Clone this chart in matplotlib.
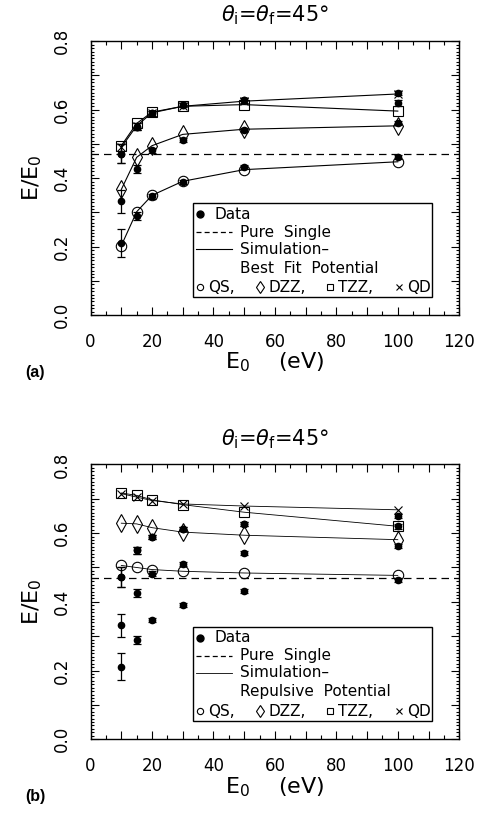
import matplotlib
matplotlib.use('Agg')
import matplotlib.pyplot as plt
from matplotlib.ticker import MultipleLocator, FuncFormatter
from matplotlib.patches import Rectangle

plt.rcParams['font.family'] = ['DejaVu Sans']
plt.rcParams['mathtext.fontset'] = 'dejavusans'

# incident energies (eV)
energy = [10, 15, 20, 30, 50, 100]
pure_single = 0.47

# measured E/E0 for the four ions
data_qs = [0.211, 0.289, 0.347, 0.390, 0.432, 0.463]
err_qs = [0.040, 0.011, 0.007, 0.006, 0.006, 0.006]
data_dzz = [0.332, 0.426, 0.482, 0.511, 0.542, 0.562]
err_dzz = [0.034, 0.012, 0.007, 0.006, 0.006, 0.006]
data_tzz = [0.472, 0.550, 0.589, 0.613, 0.627, 0.620]
err_tzz = [0.029, 0.010, 0.007, 0.006, 0.006, 0.008]
data_qd = [0.472, 0.550, 0.589, 0.613, 0.627, 0.649]
err_qd = [0.029, 0.010, 0.007, 0.006, 0.006, 0.006]

# simulation, best fit potential
fit_qs = [0.203, 0.302, 0.350, 0.391, 0.425, 0.448]
fit_dzz = [0.367, 0.461, 0.495, 0.528, 0.543, 0.553]
fit_tzz = [0.495, 0.560, 0.593, 0.610, 0.615, 0.596]
fit_qd = [0.490, 0.553, 0.591, 0.610, 0.625, 0.646]

# simulation, repulsive potential
rep_qs = [0.506, 0.500, 0.494, 0.489, 0.484, 0.477]
rep_dzz = [0.629, 0.627, 0.616, 0.603, 0.594, 0.581]
rep_tzz = [0.717, 0.710, 0.697, 0.683, 0.661, 0.620]
rep_qd = [0.715, 0.705, 0.695, 0.685, 0.679, 0.668]

sim_styles = [('o', 7.5), ('d', 9), ('s', 6.5), ('x', 6)]


def every_other(v, pos, step):
    if abs(round(v / step) % 2) == 0:
        return ('%g' % v) if step >= 1 else '%.1f' % v
    return ''


def draw_panel(ax, sims, potential, tag, lw):
    for vals, (m, ms) in zip(sims, sim_styles):
        ax.plot(energy, vals, color='k', lw=lw, marker=m, ms=ms,
                mfc='none', mec='k', mew=0.8)
    for vals, errs in [(data_qs, err_qs), (data_dzz, err_dzz),
                       (data_tzz, err_tzz), (data_qd, err_qd)]:
        ax.errorbar(energy, vals, yerr=errs, fmt='o', color='k', ms=4.5,
                    elinewidth=0.9, capsize=3, capthick=0.9)
    ax.axhline(pure_single, color='k', lw=0.9, dashes=(6, 4))

    ax.set_xlim(0, 120)
    ax.set_ylim(0, 0.8)
    ax.xaxis.set_major_locator(MultipleLocator(10))
    ax.xaxis.set_minor_locator(MultipleLocator(5))
    ax.yaxis.set_major_locator(MultipleLocator(0.1))
    ax.yaxis.set_minor_locator(MultipleLocator(0.01))
    ax.xaxis.set_major_formatter(FuncFormatter(lambda v, p: every_other(v, p, 10)))
    ax.yaxis.set_major_formatter(FuncFormatter(lambda v, p: every_other(v, p, 0.1)))
    ax.tick_params(which='both', direction='in', top=True, right=True, width=0.8)
    ax.tick_params(which='major', length=6)
    ax.tick_params(which='minor', length=3)
    ax.tick_params(axis='y', which='minor', length=2.5)
    ax.tick_params(axis='x', pad=13, labelsize=12)
    ax.tick_params(axis='y', pad=14, labelsize=12)
    for lab in ax.get_yticklabels():
        lab.set_rotation(90)
        lab.set_va('center')
    for s in ax.spines.values():
        s.set_linewidth(1)

    ax.set_title(r'$\theta_{\rm i}$=$\theta_{\rm f}$=45°', fontsize=15, pad=14)
    ax.set_xlabel(r'E$_{\rm 0}$    (eV)', fontsize=16)
    ax.xaxis.set_label_coords(0.5, -0.13)
    ax.set_ylabel(r'E/E$_{\rm 0}$', fontsize=16)
    ax.yaxis.set_label_coords(-0.125, 0.5)
    ax.text(-0.176, -0.21, tag, transform=ax.transAxes, fontsize=11.5,
            fontweight='bold', family='Liberation Sans', va='center')

    # key box
    tr = ax.transAxes
    ax.add_patch(Rectangle((0.278, 0.066), 0.648, 0.343, transform=tr,
                           fill=False, lw=1, ec='k'))
    fs = 11
    ax.plot([0.297], [0.369], 'o', color='k', ms=5, transform=tr)
    ax.text(0.335, 0.369, 'Data', transform=tr, fontsize=fs, va='center')
    ax.plot([0.286, 0.384], [0.303, 0.303], color='k', lw=0.9, dashes=(4, 2.5),
            transform=tr)
    ax.text(0.406, 0.303, 'Pure  Single', transform=tr, fontsize=fs, va='center')
    ax.plot([0.286, 0.384], [0.241, 0.241], color='k', lw=lw, transform=tr)
    ax.text(0.406, 0.241, 'Simulation\u2013', transform=tr, fontsize=fs, va='center')
    ax.text(0.406, 0.172, potential, transform=tr, fontsize=fs, va='center')
    key_row = [(0.297, 'o', 4.5, 'QS,'), (0.460, 'd', 6, 'DZZ,'),
               (0.649, 's', 4.2, 'TZZ,'), (0.837, 'x', 4.2, 'QD')]
    for x0, m, ms, name in key_row:
        ax.plot([x0], [0.102], m, color='k', ms=ms, mfc='none', mew=0.8,
                transform=tr)
        ax.text(x0 + 0.022, 0.102, name, transform=tr, fontsize=fs, va='center')


fig = plt.figure(figsize=(4.87, 8.25), dpi=100)
ax_a = fig.add_axes([0.186, 0.618, 0.757, 0.332])
ax_b = fig.add_axes([0.186, 0.104, 0.757, 0.333])

draw_panel(ax_a, [fit_qs, fit_dzz, fit_tzz, fit_qd],
           'Best  Fit  Potential', '(a)', 0.8)
draw_panel(ax_b, [rep_qs, rep_dzz, rep_tzz, rep_qd],
           'Repulsive  Potential', '(b)', 0.6)

fig.savefig('out.png', dpi=100)
